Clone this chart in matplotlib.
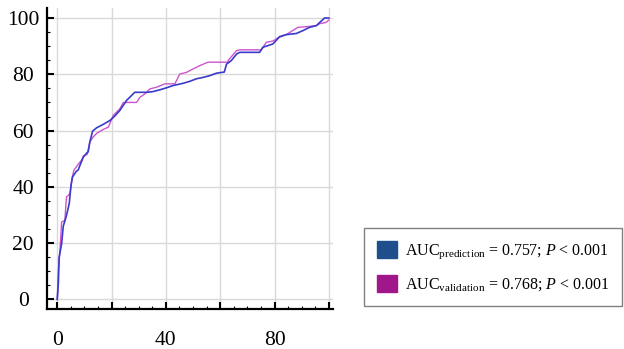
import numpy as np
import matplotlib as mpl
import matplotlib.pyplot as plt
from matplotlib.patches import Patch
from matplotlib.ticker import MultipleLocator, FixedLocator, FixedFormatter

plt.rcParams['font.family'] = ['Liberation Serif', 'DejaVu Serif']
plt.rcParams['mathtext.fontset'] = 'custom'
plt.rcParams['mathtext.rm'] = 'Liberation Serif'
plt.rcParams['mathtext.it'] = 'Liberation Serif:italic'

# ROC curves (100 - specificity, sensitivity)
pred_x = [0, 0.4, 0.7, 1.6, 2.2, 3.3, 4.4, 5.0, 5.6, 7.0, 7.7, 8.5, 9.6, 10.8, 11.4,
          12.0, 13.0, 14.5, 16.9, 19.4, 21, 23, 25.5, 27.9, 28.5, 32.9, 35, 37.8,
          40.2, 42.6, 46.3, 48.8, 51.2, 53.7, 56.1, 58.6, 61.5, 62.3, 64.1, 66,
          67.2, 74.5, 75.7, 79.4, 81.9, 84.3, 88, 90.4, 92.9, 95.4, 96.6, 98.4, 100]
pred_y = [0, 5.8, 15, 19.8, 26, 29.5, 34, 40, 43.5, 45.5, 46, 48, 50.6, 52, 52.5,
          56, 59.8, 61, 62.2, 63.6, 65, 67.1, 70.7, 73, 73.6, 73.6, 73.8, 74.5,
          75.2, 76, 76.8, 77.5, 78.4, 78.9, 79.5, 80.4, 80.8, 83.6, 84.9, 87.2,
          87.8, 87.8, 89.6, 90.8, 93.4, 94.1, 94.5, 95.5, 96.7, 97.3, 98.4, 100, 100]

val_x = [0, 0.4, 1.0, 1.6, 2.8, 3.2, 3.4, 4.7, 5.3, 6.1, 7.4, 9, 9.6, 11, 12, 13.2,
         14.5, 16.9, 18.8, 20.6, 23, 24.3, 29.2, 30.4, 32.2, 34.1, 36.5, 39.6, 43.3,
         45.1, 47.6, 50, 52.5, 55.5, 62.9, 62.9, 66, 67.2, 75.1, 77, 79.4, 81.3,
         84.3, 88.6, 91.7, 95.4, 96.6, 98.9, 100]
val_y = [0, 10.4, 17.5, 27.5, 28.1, 34, 36.4, 37.6, 42.3, 45.9, 47.6, 49.6, 51, 51.5,
         56, 57.7, 59, 60.4, 61.2, 65.4, 67.7, 70, 70, 71.8, 73, 74.8, 75.4, 76.6,
         76.6, 80.1, 80.7, 81.9, 83.1, 84.3, 84.3, 84.9, 88.4, 88.7, 88.7, 91.4,
         91.8, 93, 94.1, 96.7, 96.9, 97.3, 98, 98.4, 99.3]

labels = ['AUC$_{\\mathregular{prediction}}$ = 0.757; $P$ < 0.001',
          'AUC$_{\\mathregular{validation}}$ = 0.768; $P$ < 0.001']

fig = plt.figure(figsize=(6.24, 3.49), dpi=100)
ax = fig.add_axes([0.0748, 0.1146, 0.4588, 0.862])

ax.plot(pred_x, pred_y, color='#3a3acc', lw=1.2, zorder=3)
ax.plot(val_x, val_y, color='#cc55cc', lw=1.0, zorder=2)

ax.set_xlim(-3.9, 101.5)
ax.set_ylim(-3.4, 103.5)

ax.spines['top'].set_visible(False)
ax.spines['right'].set_visible(False)
ax.spines['left'].set_linewidth(1.6)
ax.spines['bottom'].set_linewidth(1.6)

ax.xaxis.set_major_locator(FixedLocator([0, 20, 40, 60, 80, 100]))
ax.xaxis.set_major_formatter(FixedFormatter(['0', '', '40', '', '80', '']))
ax.xaxis.set_minor_locator(MultipleLocator(5))
ax.yaxis.set_major_locator(MultipleLocator(20))
ax.yaxis.set_minor_locator(MultipleLocator(5))

ax.tick_params(axis='both', which='major', direction='in', length=5, width=1.5,
               labelsize=15.5)
ax.tick_params(axis='both', which='minor', direction='in', length=2.5, width=0.8)
ax.tick_params(axis='x', which='major', pad=16)
ax.tick_params(axis='y', which='major', pad=17)
for t in ax.get_yticklabels():
    t.set_horizontalalignment('center')

ax.grid(True, which='major', color='#d9d9d9', lw=1.0)
ax.set_axisbelow(True)

handles = [Patch(facecolor='#1f4e8c', edgecolor='#1f4e8c'),
           Patch(facecolor='#a0178c', edgecolor='#a0178c')]
leg = fig.legend(handles, labels, loc='lower left', bbox_to_anchor=(0.583, 0.123),
                 borderaxespad=0, fontsize=11.5, handlelength=1.31, handleheight=1.31,
                 handletextpad=0.45, borderpad=0.8, labelspacing=0.85,
                 fancybox=False, framealpha=1)
leg.get_frame().set_edgecolor('#808080')
leg.get_frame().set_linewidth(1.0)

fig.savefig('out.png', dpi=100)
